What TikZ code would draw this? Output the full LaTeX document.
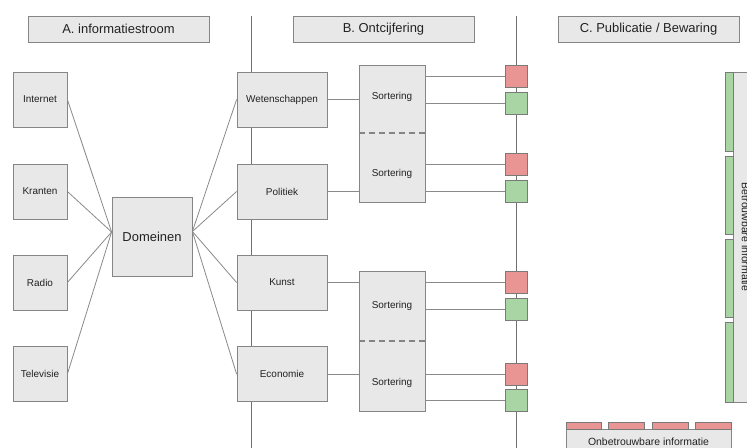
\documentclass[tikz,border=0pt]{standalone}
\usepackage{fontspec}
\setmainfont{Liberation Sans}
\begin{document}
\begin{tikzpicture}[x=1bp,y=-1bp,
  box/.style={draw=boxline,fill=boxfill,line width=0.8bp,inner sep=0pt,text=txt,font=\fontsize{10}{12}\selectfont},
  bigbox/.style={box,font=\fontsize{13}{15}\selectfont},
  hdr/.style={bigbox,minimum width=181bp,minimum height=26bp},
  src/.style={box,minimum width=54bp,minimum height=55bp},
  dom/.style={box,minimum width=90bp,minimum height=55bp},
  sq/.style={draw=sqline,line width=0.8bp,inner sep=0pt,minimum width=22bp,minimum height=22bp},
  redsq/.style={sq,fill=redc},
  greensq/.style={sq,fill=greenc},
  lbl/.style={inner sep=0pt,text=txt,font=\fontsize{10}{12}\selectfont},
  conn/.style={draw=connc,line width=0.8bp},
  vline/.style={draw=vlinec,line width=0.8bp}]
\definecolor{boxfill}{HTML}{E8E8E8}
\definecolor{boxline}{HTML}{858585}
\definecolor{txt}{HTML}{222222}
\definecolor{redc}{HTML}{E99593}
\definecolor{greenc}{HTML}{A9D4A3}
\definecolor{sqline}{HTML}{7A7A7A}
\definecolor{connc}{HTML}{8A8A8A}
\definecolor{vlinec}{HTML}{707070}
\useasboundingbox[fill=white] (0,0) rectangle (747,448);
% vertical dividers
\coordinate (v1t) at (251.5,16); \coordinate (v1b) at (251.5,448);
\coordinate (v2t) at (516,16); \coordinate (v2b) at (516,448);
\draw[vline] (v1t) -- (v1b);
\draw[vline] (v2t) -- (v2b);
% headers
\node[hdr] (hA) at (118.5,29) {A. informatiestroom};
\node[hdr] (hB) at (383.5,29) {B. Ontcijfering};
\node[hdr] (hC) at (648.5,29) {C. Publicatie / Bewaring};
% sources
\node[src] (internet) at (40,99.5) {Internet};
\node[src] (kranten) at (40,191.5) {Kranten};
\node[src] (radio) at (40,282.5) {Radio};
\node[src] (tv) at (40,374) {Televisie};
% Domeinen
\node[bigbox,minimum width=80bp,minimum height=79bp] (domeinen) at (152,236.5) {Domeinen};
% domains
\node[dom] (wet) at (282,99.5) {Wetenschappen};
\node[dom] (pol) at (282,191.5) {Politiek};
\node[dom] (kun) at (282,282.5) {Kunst};
\node[dom] (eco) at (282,374) {Economie};
% sortering boxes
\node[box,minimum width=66bp,minimum height=137bp] (s1) at (392,133.5) {};
\node[box,minimum width=66bp,minimum height=140bp] (s2) at (392,341) {};
\draw[draw=boxline,line width=1.6bp,dash pattern=on 6bp off 4bp] (s1.west |- 0,133) -- (s1.east |- 0,133);
\draw[draw=boxline,line width=1.6bp,dash pattern=on 6bp off 4bp] (s2.west |- 0,341) -- (s2.east |- 0,341);
\node[lbl] (s1a) at (392,97) {Sortering};
\node[lbl] (s1b) at (392,174) {Sortering};
\node[lbl] (s2a) at (392,306) {Sortering};
\node[lbl] (s2b) at (392,383) {Sortering};
% squares
\node[redsq] (r1) at (516,76.5) {};
\node[greensq] (g1) at (516,103) {};
\node[redsq] (r2) at (516,164.5) {};
\node[greensq] (g2) at (516,191) {};
\node[redsq] (r3) at (516,282.5) {};
\node[greensq] (g3) at (516,309) {};
\node[redsq] (r4) at (516,374) {};
\node[greensq] (g4) at (516,400) {};
% connectors left
\foreach \n in {internet,kranten,radio,tv}
  \draw[conn] (\n.east) -- ([yshift=4.5bp]domeinen.west);
\foreach \n in {wet,pol,kun,eco}
  \draw[conn] ([yshift=5bp]domeinen.east) -- (\n.west);
% domains to sortering
\draw[conn] (wet.east) -- (wet.east -| s1.west);
\draw[conn] (pol.east) -- (pol.east -| s1.west);
\draw[conn] (kun.east) -- (kun.east -| s2.west);
\draw[conn] (eco.east) -- (eco.east -| s2.west);
% sortering to squares
\foreach \q in {r1,g1,r2,g2}
  \draw[conn] (\q.west -| s1.east) -- (\q.west);
\foreach \q in {r3,g3,r4,g4}
  \draw[conn] (\q.west -| s2.east) -- (\q.west);
% right column: reliable information
\node[box,minimum width=26bp,minimum height=330bp] (betr) at (746,237) {};
\node[lbl,rotate=-90,font=\fontsize{10.5}{12}\selectfont] (betrt) at (745.5,237) {Betrouwbare informatie};
\node[draw=sqline,fill=greenc,line width=0.8bp,inner sep=0pt,minimum width=7.5bp,minimum height=79bp] (gs1) at (729.5,111.5) {};
\node[draw=sqline,fill=greenc,line width=0.8bp,inner sep=0pt,minimum width=7.5bp,minimum height=78bp] (gs2) at (729.5,195) {};
\node[draw=sqline,fill=greenc,line width=0.8bp,inner sep=0pt,minimum width=7.5bp,minimum height=78bp] (gs3) at (729.5,278) {};
\node[draw=sqline,fill=greenc,line width=0.8bp,inner sep=0pt,minimum width=7.5bp,minimum height=80bp] (gs4) at (729.5,362) {};
% bottom: unreliable information
\node[box,minimum width=165bp,minimum height=26bp,font=\fontsize{10.5}{12}\selectfont] (onbetr) at (648.5,442) {Onbetrouwbare informatie};
\node[draw=sqline,fill=redc,line width=0.8bp,inner sep=0pt,minimum width=35bp,minimum height=7bp] (rs1) at (583.5,425.5) {};
\node[draw=sqline,fill=redc,line width=0.8bp,inner sep=0pt,minimum width=36bp,minimum height=7bp] (rs2) at (626,425.5) {};
\node[draw=sqline,fill=redc,line width=0.8bp,inner sep=0pt,minimum width=36bp,minimum height=7bp] (rs3) at (670,425.5) {};
\node[draw=sqline,fill=redc,line width=0.8bp,inner sep=0pt,minimum width=36bp,minimum height=7bp] (rs4) at (713,425.5) {};
\end{tikzpicture}
\end{document}
